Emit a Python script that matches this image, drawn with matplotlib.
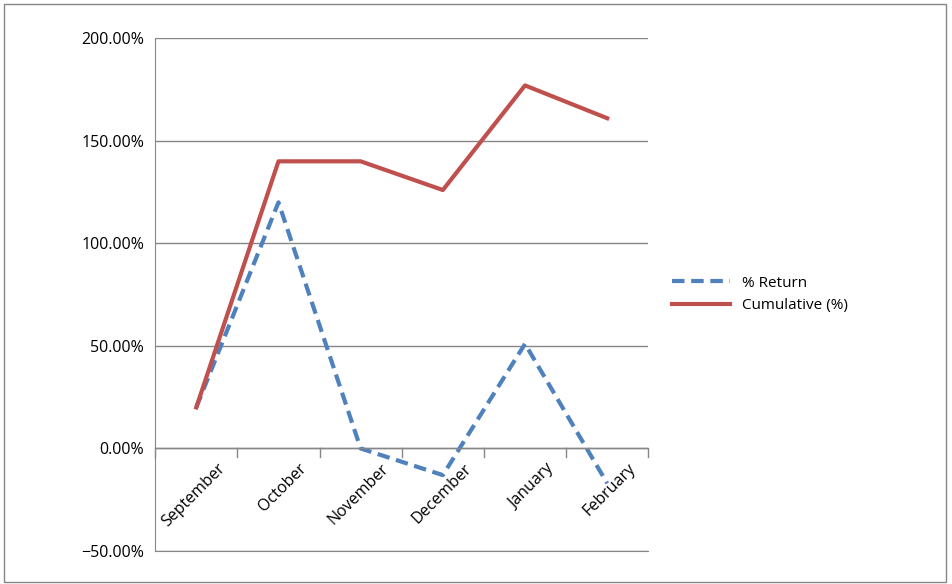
import matplotlib.pyplot as plt
from matplotlib.ticker import PercentFormatter

months = ['September', 'October', 'November', 'December', 'January', 'February']
pct_return = [20, 120, 0, -13, 51, -17]
cumulative = [20, 140, 140, 126, 177, 161]

plt.rcParams['font.family'] = ['Open Sans', 'DejaVu Sans']

fig = plt.figure(figsize=(9.52, 5.84), dpi=100)
ax = fig.add_axes([0.163, 0.0565, 0.518, 0.878])

x = list(range(len(months)))
ax.plot(x, pct_return, color='#4f81bd', lw=3, ls=(0, (3, 1.6)), label='% Return')
ax.plot(x, cumulative, color='#c0504d', lw=3, label='Cumulative (%)')

ax.set_ylim(-50, 200)
ax.set_xlim(-0.5, len(months) - 0.5)
ax.set_yticks(range(-50, 201, 50))
ax.yaxis.set_major_formatter(PercentFormatter(decimals=2))
ax.grid(axis='y', color='#868686', lw=1)
ax.set_axisbelow(True)

for s in ['top', 'right']:
    ax.spines[s].set_visible(False)
ax.spines['left'].set_color('#868686')
ax.spines['bottom'].set_color('#868686')
ax.axhline(0, color='#868686', lw=1)

# category boundary ticks on the zero line
for b in [i - 0.5 for i in range(len(months) + 1)]:
    ax.plot([b, b], [0, -4], color='#868686', lw=1, clip_on=False)
ax.set_xticks([])
for i, m in enumerate(months):
    ax.text(i + 0.25, -6, m, rotation=45, ha='right', va='top', fontsize=11.5,
            rotation_mode='anchor')

ax.tick_params(axis='y', length=0, labelsize=11.5, pad=8)

ax.legend(loc='center left', bbox_to_anchor=(1.02, 0.5), frameon=False, fontsize=11,
          handlelength=3.8)

fig.patches.append(plt.Rectangle((0.004, 0.004), 0.99, 0.99, transform=fig.transFigure,
                                 fill=False, edgecolor='#868686', lw=1))
fig.savefig('out.png', dpi=100)
